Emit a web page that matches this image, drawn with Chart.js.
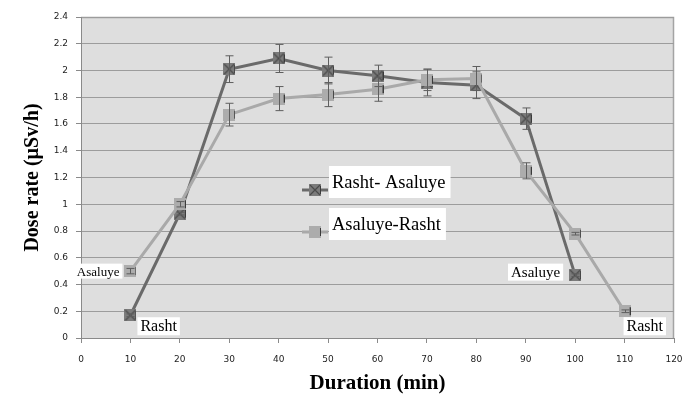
<!DOCTYPE html>
<html>
<head>
<meta charset="utf-8">
<script src="https://cdn.jsdelivr.net/npm/chart.js@4/dist/chart.umd.min.js"></script>
<style>
  html, body { margin: 0; padding: 0; background: #ffffff; }
  #wrap { width: 684px; height: 398px; }
</style>
</head>
<body>
<div id="wrap"><canvas id="c" width="684" height="398"></canvas></div>
<script>
// Measurement times (min)
const durations = [10, 20, 30, 40, 50, 60, 70, 80, 90, 100, 110];

// Dose rate, route Rasht -> Asaluye (µSv/h) and its error
const rashtAsaluye    = [0.17, 0.93, 2.01, 2.09, 2.00, 1.96, 1.91, 1.89, 1.64, 0.47, null];
const rashtAsaluyeErr = [0.01, 0.01, 0.10, 0.105, 0.10, 0.08, 0.10, 0.10, 0.08, 0.01, null];

// Dose rate, route Asaluye -> Rasht (µSv/h) and its error
const asaluyeRasht    = [0.50, 1.00, 1.67, 1.79, 1.82, 1.86, 1.93, 1.94, 1.25, 0.78, 0.20];
const asaluyeRashtErr = [0.02, 0.02, 0.085, 0.09, 0.09, 0.09, 0.08, 0.09, 0.06, 0.01, 0.01];

// Axis tick values
const xTickValues = [0, 10, 20, 30, 40, 50, 60, 70, 80, 90, 100, 110, 120];
const yTickValues = [0, 0.2, 0.4, 0.6, 0.8, 1, 1.2, 1.4, 1.6, 1.8, 2, 2.2, 2.4];

// Labels for the start/end of each route
const endLabels = [
  { text: 'Asaluye', series: 1, index: 0, size: 13, anchor: 'left'  },
  { text: 'Rasht',   series: 0, index: 0, size: 16, anchor: 'below-right' },
  { text: 'Asaluye', series: 0, index: 9, size: 15, anchor: 'left2' },
  { text: 'Rasht',   series: 1, index: 10, size: 16, anchor: 'below' }
];

const DARK = '#6a6a6a';
const LIGHT = '#a9a9a9';
const SERIF = '"Liberation Serif", "Times New Roman", serif';
const TICK_FONT = { family: '"DejaVu Sans", sans-serif', size: 9 };

function toPoints(values) {
  return durations.map((d, i) => ({ x: d, y: values[i] })).filter(p => p.y !== null);
}

// Square marker, optionally crossed
function makeMarker(fill, cross) {
  const s = 12;
  const cv = document.createElement('canvas');
  cv.width = s; cv.height = s;
  const g = cv.getContext('2d');
  g.fillStyle = fill;
  g.fillRect(0, 0, s, s);
  if (cross) {
    g.strokeStyle = '#4a4a4a';
    g.lineWidth = 1.2;
    g.beginPath();
    g.moveTo(1, 1); g.lineTo(s - 1, s - 1);
    g.moveTo(s - 1, 1); g.lineTo(1, s - 1);
    g.stroke();
  }
  g.fillStyle = '#3a3a3a';
  g.fillRect(s - 1, 2, 1, s - 4);
  return cv;
}
const markerDark = makeMarker('#7b7b7b', true);
const markerLight = makeMarker('#acacac', false);

const plotBackground = {
  id: 'plotBackground',
  beforeDraw(chart) {
    const { ctx, chartArea: a } = chart;
    ctx.save();
    ctx.fillStyle = '#dedede';
    ctx.fillRect(a.left, a.top, a.right - a.left, a.bottom - a.top);
    ctx.strokeStyle = '#a4a4a4';
    ctx.lineWidth = 1.5;
    ctx.beginPath();
    ctx.moveTo(a.left, a.top + 0.5);
    ctx.lineTo(a.right - 0.5, a.top + 0.5);
    ctx.lineTo(a.right - 0.5, a.bottom);
    ctx.stroke();
    ctx.restore();
  }
};

const errorBars = {
  id: 'errorBars',
  afterDatasetsDraw(chart) {
    const { ctx } = chart;
    const xs = chart.scales.x, ys = chart.scales.y;
    const sets = [[rashtAsaluye, rashtAsaluyeErr], [asaluyeRasht, asaluyeRashtErr]];
    ctx.save();
    ctx.strokeStyle = '#5e5e5e';
    ctx.lineWidth = 1;
    sets.forEach(([vals, errs]) => {
      vals.forEach((v, i) => {
        if (v === null || !errs[i]) return;
        const px = Math.round(xs.getPixelForValue(durations[i])) + 0.5;
        const yTop = ys.getPixelForValue(v + errs[i]);
        const yBot = ys.getPixelForValue(v - errs[i]);
        ctx.beginPath();
        ctx.moveTo(px, yTop); ctx.lineTo(px, yBot);
        ctx.moveTo(px - 4, yTop); ctx.lineTo(px + 4, yTop);
        ctx.moveTo(px - 4, yBot); ctx.lineTo(px + 4, yBot);
        ctx.stroke();
      });
    });
    ctx.restore();
  }
};

function textBox(ctx, text, size, x, y, w, h) {
  ctx.fillStyle = '#ffffff';
  ctx.fillRect(x, y, w, h);
  ctx.fillStyle = '#000000';
  ctx.font = size + 'px ' + SERIF;
  ctx.textBaseline = 'middle';
  ctx.textAlign = 'left';
  ctx.fillText(text, x + 3, y + h / 2 + 1);
}

const routeLabels = {
  id: 'routeLabels',
  afterDatasetsDraw(chart) {
    const { ctx } = chart;
    const xs = chart.scales.x, ys = chart.scales.y;
    const series = [rashtAsaluye, asaluyeRasht];
    ctx.save();
    endLabels.forEach(l => {
      const px = xs.getPixelForValue(durations[l.index]);
      const py = ys.getPixelForValue(series[l.series][l.index]);
      ctx.font = l.size + 'px ' + SERIF;
      const w = ctx.measureText(l.text).width + 6;
      const h = Math.round(l.size * 1.15);
      let x, y;
      if (l.anchor === 'left') { x = px - 8 - w; y = py - h / 2; }
      else if (l.anchor === 'left2') { x = px - 12 - w; y = py - 3 - h / 2; }
      else if (l.anchor === 'below-right') { x = px + 7; y = py + 2; }
      else { x = px - 1; y = py + 6; }
      textBox(ctx, l.text, l.size, x, y, w, h);
    });

    // Legend inside the plot
    const entries = [
      { text: 'Rasht- Asaluye', color: DARK, marker: markerDark, top: 166 },
      { text: 'Asaluye-Rasht', color: LIGHT, marker: markerLight, top: 208 }
    ];
    entries.forEach(e => {
      const lineY = e.top + 24;
      ctx.strokeStyle = e.color;
      ctx.lineWidth = 3;
      ctx.beginPath();
      ctx.moveTo(302, lineY); ctx.lineTo(328, lineY);
      ctx.stroke();
      ctx.drawImage(e.marker, 315 - 6, lineY - 6);
      ctx.font = '18.5px ' + SERIF;
      const w = ctx.measureText(e.text).width + 8;
      textBox(ctx, e.text, 18.5, 329, e.top, w, 32);
    });
    ctx.restore();
  }
};

new Chart(document.getElementById('c'), {
  type: 'line',
  data: {
    datasets: [
      {
        label: 'Rasht- Asaluye',
        data: toPoints(rashtAsaluye),
        borderColor: DARK,
        borderWidth: 3,
        pointStyle: markerDark,
        pointRadius: 6,
        tension: 0,
        order: 1
      },
      {
        label: 'Asaluye-Rasht',
        data: toPoints(asaluyeRasht),
        borderColor: LIGHT,
        borderWidth: 3,
        pointStyle: markerLight,
        pointRadius: 6,
        tension: 0,
        order: 0
      }
    ]
  },
  options: {
    responsive: false,
    animation: false,
    events: [],
    layout: { padding: { top: 17, right: 10, left: 0, bottom: 0 } },
    plugins: { legend: { display: false }, tooltip: { enabled: false } },
    scales: {
      x: {
        type: 'linear',
        min: 0, max: 120,
        afterBuildTicks(scale) { scale.ticks = xTickValues.map(v => ({ value: v })); },
        afterFit(scale) { scale.height = 60; scale.paddingRight = 0; scale.paddingLeft = 0; },
        grid: { drawOnChartArea: false, drawTicks: true, tickLength: 5, tickColor: '#8a8a8a' },
        border: { color: '#8a8a8a', width: 1 },
        ticks: { color: '#222', font: TICK_FONT, padding: 11, maxRotation: 0, callback: v => String(v) },
        title: { display: true, text: 'Duration (min)', color: '#000', font: { family: SERIF, size: 21, weight: 'bold' }, padding: { top: 0, bottom: 2 } }
      },
      y: {
        min: 0, max: 2.4,
        afterBuildTicks(scale) { scale.ticks = yTickValues.map(v => ({ value: v })); },
        afterFit(scale) { scale.width = 81; scale.paddingTop = 0; scale.paddingBottom = 0; },
        grid: { color: '#9c9c9c', lineWidth: 1, drawTicks: true, tickLength: 5, tickColor: '#8a8a8a' },
        border: { color: '#8a8a8a', width: 1 },
        ticks: { color: '#222', font: TICK_FONT, padding: 8, callback: v => String(+Number(v).toFixed(1)) },
        title: { display: true, text: 'Dose rate (µSv/h)', color: '#000', font: { family: SERIF, size: 20, weight: 'bold' }, padding: { top: 21, bottom: 0 } }
      }
    }
  },
  plugins: [plotBackground, errorBars, routeLabels]
});
</script>
</body>
</html>
